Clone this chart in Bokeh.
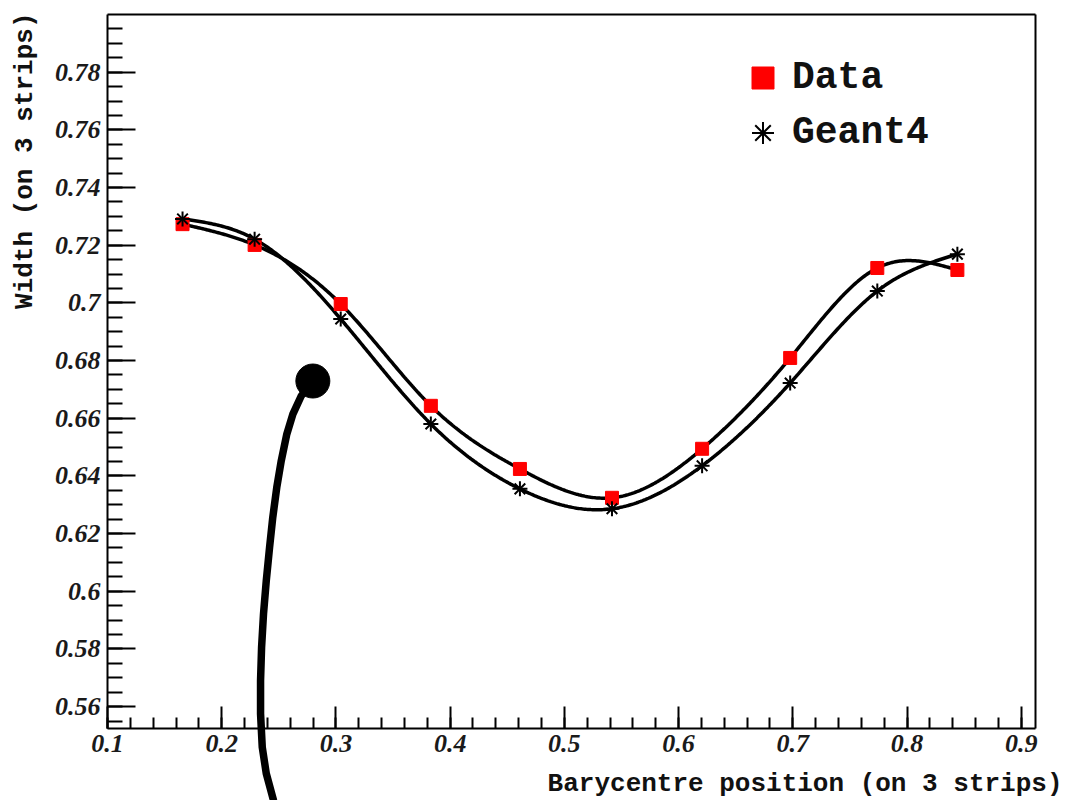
import numpy as np
from bokeh.plotting import figure
from bokeh.models import Label, Legend, LegendItem, FixedTicker, Range1d, LinearAxis
from bokeh.embed import file_html
from bokeh.resources import INLINE

# Barycentre position bins and the cluster width measured in each of them
position = [0.1657, 0.2288, 0.3042, 0.3831, 0.4611, 0.5417, 0.6206, 0.6977, 0.7740, 0.8441]
width_data = [0.7273, 0.7201, 0.6996, 0.6643, 0.6424, 0.6324, 0.6494, 0.6809, 0.7121, 0.7114]
width_geant4 = [0.7291, 0.7221, 0.6944, 0.6580, 0.6355, 0.6286, 0.6435, 0.6722, 0.7041, 0.7169]

x_ticks = [0.1, 0.2, 0.3, 0.4, 0.5, 0.6, 0.7, 0.8, 0.9]
x_tick_labels = ["0.1", "0.2", "0.3", "0.4", "0.5", "0.6", "0.7", "0.8", "0.9"]
y_ticks = [0.56, 0.58, 0.60, 0.62, 0.64, 0.66, 0.68, 0.70, 0.72, 0.74, 0.76, 0.78]
y_tick_labels = ["0.56", "0.58", "0.6", "0.62", "0.64", "0.66", "0.68", "0.7",
                 "0.72", "0.74", "0.76", "0.78"]

# hand-drawn pointer stroke, head first
pointer_x = [0.2798, 0.2696, 0.2623, 0.2570, 0.2521, 0.2482, 0.2447, 0.2419, 0.2390,
             0.2366, 0.2349, 0.2340, 0.2340, 0.2355, 0.2390, 0.2454, 0.2480]
pointer_y = [0.6729, 0.6677, 0.6614, 0.6545, 0.6452, 0.6360, 0.6256, 0.6152, 0.6036,
             0.5922, 0.5805, 0.5690, 0.5575, 0.5459, 0.5368, 0.5274, 0.5239]

# axis extents and where the axis box sits on the 1069x800 canvas
X_LO, X_HI, Y_LO, Y_HI = 0.1, 0.9125, 0.5524, 0.80
BOX_L, BOX_R, BOX_T, BOX_B = 107, 1035, 14, 728
W, H = 1069, 800
sx = (BOX_R - BOX_L) / (X_HI - X_LO)
sy = (BOX_B - BOX_T) / (Y_HI - Y_LO)


def natural_spline(x, y, n=500):
    """Smooth curve through the points (natural cubic spline)."""
    x = np.asarray(x, float)
    y = np.asarray(y, float)
    k = len(x)
    h = np.diff(x)
    A = np.zeros((k, k))
    r = np.zeros(k)
    A[0, 0] = A[-1, -1] = 1.0
    for i in range(1, k - 1):
        A[i, i - 1] = h[i - 1]
        A[i, i] = 2 * (h[i - 1] + h[i])
        A[i, i + 1] = h[i]
        r[i] = 3 * ((y[i + 1] - y[i]) / h[i] - (y[i] - y[i - 1]) / h[i - 1])
    c = np.linalg.solve(A, r)
    b = (y[1:] - y[:-1]) / h - h * (2 * c[:-1] + c[1:]) / 3
    d = (c[1:] - c[:-1]) / (3 * h)
    xs = np.linspace(x[0], x[-1], n)
    idx = np.clip(np.searchsorted(x, xs) - 1, 0, k - 2)
    dx = xs - x[idx]
    ys = y[idx] + b[idx] * dx + c[idx] * dx ** 2 + d[idx] * dx ** 3
    return xs, ys


# the frame covers the whole canvas; the axes are pinned to the box edges
p = figure(width=W, height=H, output_backend="svg", toolbar_location=None, title=None,
           x_range=Range1d(X_LO - BOX_L / sx, X_HI + (W - BOX_R) / sx),
           y_range=Range1d(Y_LO - (H - BOX_B) / sy, Y_HI + BOX_T / sy),
           x_axis_location=None, y_axis_location=None, min_border=0)
p.background_fill_color = "white"
p.border_fill_color = "white"
p.outline_line_color = None
p.xgrid.visible = False
p.ygrid.visible = False


def styled_axis(loc, bounds, ticker):
    ax = LinearAxis(fixed_location=loc, bounds=bounds, ticker=ticker)
    ax.axis_line_color = "black"
    ax.axis_line_width = 2
    ax.major_tick_line_color = "black"
    ax.major_tick_line_width = 2
    ax.minor_tick_line_color = "black"
    ax.minor_tick_line_width = 2
    ax.major_tick_out = 0
    ax.minor_tick_out = 0
    ax.major_label_text_font = "Liberation Serif"
    ax.major_label_text_font_style = "bold italic"
    ax.major_label_text_font_size = "26px"
    ax.major_label_text_color = "#1a1a1a"
    return ax


x_minor = [round(v, 3) for v in np.arange(0.1, 0.9126, 0.02)]
y_minor = [round(v, 4) for v in np.arange(0.555, 0.8, 0.005)]

xaxis = styled_axis(Y_LO, (X_LO, X_HI), FixedTicker(ticks=x_ticks, minor_ticks=x_minor))
xaxis.major_label_overrides = dict(zip(x_ticks, x_tick_labels))
xaxis.major_tick_in = 22
xaxis.minor_tick_in = 11
xaxis.major_label_standoff = 6
p.add_layout(xaxis, "below")

yaxis = styled_axis(X_LO, (Y_LO, Y_HI), FixedTicker(ticks=y_ticks, minor_ticks=y_minor))
yaxis.major_label_overrides = dict(zip(y_ticks, y_tick_labels))
yaxis.major_tick_in = 28
yaxis.minor_tick_in = 15
yaxis.major_label_standoff = 7
p.add_layout(yaxis, "left")

# plain edges closing the box at the top and right
top_edge = styled_axis(Y_HI, (X_LO, X_HI), FixedTicker(ticks=[]))
top_edge.major_label_text_font_size = "0px"
p.add_layout(top_edge, "above")
right_edge = styled_axis(X_HI, (Y_LO, Y_HI), FixedTicker(ticks=[]))
right_edge.major_label_text_font_size = "0px"
p.add_layout(right_edge, "right")

# smooth curves through each series
cx, cy = natural_spline(position, width_data)
p.line(cx, cy, line_color="black", line_width=3.5)
gx, gy = natural_spline(position, width_geant4)
p.line(gx, gy, line_color="black", line_width=3.5)

r_data = p.scatter(position, width_data, marker="square", size=13,
                   fill_color="#ff0000", line_color="#ff0000")
r_g1 = p.scatter(position, width_geant4, marker="cross", size=15,
                 line_color="black", line_width=2)
r_g2 = p.scatter(position, width_geant4, marker="x", size=15,
                 line_color="black", line_width=2)

legend = Legend(items=[LegendItem(label="Data", renderers=[r_data]),
                       LegendItem(label="Geant4", renderers=[r_g1, r_g2])],
                location=(735, 640), border_line_color=None,
                background_fill_alpha=0, glyph_width=55, glyph_height=55,
                label_text_font="Liberation Mono", label_text_font_style="bold",
                label_text_font_size="38px", label_text_color="#111111",
                padding=0, margin=0, spacing=0, label_standoff=2)
p.add_layout(legend)

mono = "Liberation Mono"
p.add_layout(Label(x=X_LO + (1062 - BOX_L) / sx, y=0.78 - (798 - 71) / sy,
                   text="Barycentre position (on 3 strips)",
                   text_font=mono, text_font_style="bold", text_font_size="26px",
                   text_align="right", text_baseline="bottom", text_color="#111111"))
p.add_layout(Label(x=X_LO - (BOX_L - 24) / sx, y=Y_HI + 2 / sy,
                   text="Width (on 3 strips)", angle=np.pi / 2,
                   text_font=mono, text_font_style="bold", text_font_size="26px",
                   text_align="right", text_baseline="middle", text_color="#111111"))

# pointer stroke with its round head
p.line(pointer_x, pointer_y, line_color="black", line_width=7.5,
       line_join="round", line_cap="round")
p.scatter(pointer_x[:1], pointer_y[:1], marker="circle", size=34,
          fill_color="black", line_color="black")

open("out.html", "w").write(file_html(p, INLINE))
